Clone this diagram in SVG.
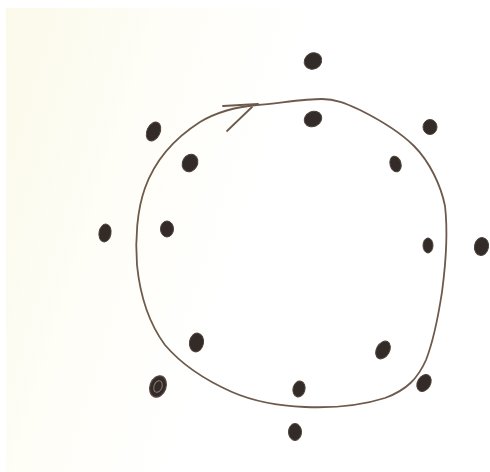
<svg xmlns="http://www.w3.org/2000/svg" width="490" height="472" viewBox="0 0 490 472">
<defs>
<linearGradient id="bg" x1="0" y1="0" x2="1" y2="0.3">
<stop offset="0" stop-color="#fbf9e9"/>
<stop offset="0.3" stop-color="#fefdf6"/>
<stop offset="0.6" stop-color="#ffffff"/>
</linearGradient>
<style>
.dot{fill:#332b28;stroke:#4e413b;stroke-width:1}
.ring{fill:#332b28;stroke:#5a4a42;stroke-width:1.2}
.line{fill:none;stroke:#6e5a4c;stroke-width:1.8;stroke-linecap:round;stroke-linejoin:round}
</style>
</defs>
<rect width="490" height="472" fill="url(#bg)"/>
<rect x="0" y="0" width="6" height="472" fill="#ffffff"/>
<rect x="0" y="0" width="490" height="8" fill="#ffffff"/>
<g id="connectors">
<path class="line" d="M257,105 C280,103 305,99 322,99 C335,99 345,103 360,110 C380,120 400,132 414,146 C430,162 441,186 445,206 C448,232 446,262 442,292 C438,318 433,342 426,360 C418,378 407,390 385,398 C360,406 330,408 305,407 C280,406 255,402 232,392 C205,380 182,365 165,345 C148,322 140,295 137,265 C135,240 137,210 145,188 C155,160 175,138 200,122 C215,113 235,107 257,105"/>
<path class="line" d="M223,106 L258,104"/>
<path class="line" d="M227,131 L252,107"/>
</g>
<g id="o-top"><ellipse class="dot" cx="313" cy="61" rx="9" ry="8" transform="rotate(-30 313 61)"/></g>
<g id="i-top"><ellipse class="dot" cx="313" cy="119" rx="9" ry="7.5" transform="rotate(-25 313 119)"/></g>
<g id="o-topright"><ellipse class="dot" cx="430" cy="127" rx="7" ry="7.5"/></g>
<g id="i-topright"><ellipse class="dot" cx="395.5" cy="164" rx="5.5" ry="8" transform="rotate(-15 395.5 164)"/></g>
<g id="o-topleft"><ellipse class="dot" cx="153.5" cy="131.5" rx="6.5" ry="10" transform="rotate(25 153.5 131.5)"/></g>
<g id="i-topleft"><ellipse class="dot" cx="190" cy="163" rx="7.5" ry="9" transform="rotate(30 190 163)"/></g>
<g id="o-left"><ellipse class="dot" cx="105" cy="233" rx="6" ry="9" transform="rotate(10 105 233)"/></g>
<g id="i-left"><ellipse class="dot" cx="167" cy="229" rx="6.5" ry="8"/></g>
<g id="i-right"><ellipse class="dot" cx="428" cy="245.5" rx="5" ry="7.5"/></g>
<g id="o-right"><ellipse class="dot" cx="481.5" cy="246.5" rx="7" ry="9" transform="rotate(10 481.5 246.5)"/></g>
<g id="i-bottomleft"><ellipse class="dot" cx="196.5" cy="342.5" rx="7" ry="9.5" transform="rotate(10 196.5 342.5)"/></g>
<g id="o-bottomleft"><ellipse class="ring" cx="158" cy="386.5" rx="8" ry="11" transform="rotate(20 158 386.5)"/><ellipse cx="158" cy="386.5" rx="4" ry="6" transform="rotate(20 158 386.5)" fill="none" stroke="#8a7a72" stroke-width="1"/></g>
<g id="i-bottom"><ellipse class="dot" cx="299" cy="389" rx="6" ry="8" transform="rotate(15 299 389)"/></g>
<g id="o-bottom"><ellipse class="dot" cx="295" cy="432" rx="6.5" ry="8.5"/></g>
<g id="i-bottomright"><ellipse class="dot" cx="383" cy="350" rx="6.5" ry="9.5" transform="rotate(30 383 350)"/></g>
<g id="o-bottomright"><ellipse class="dot" cx="424" cy="383" rx="6.5" ry="9" transform="rotate(30 424 383)"/></g>
</svg>
